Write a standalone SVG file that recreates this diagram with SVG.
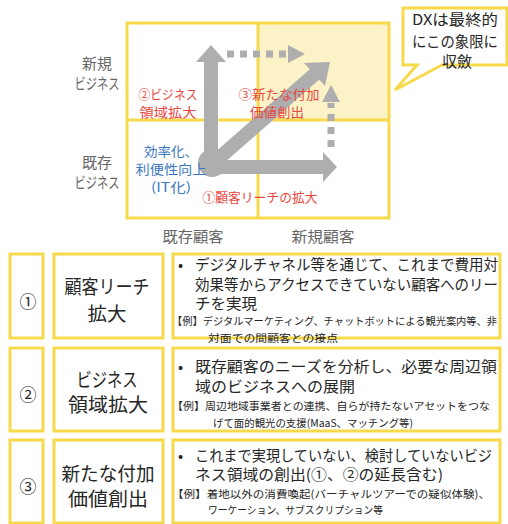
<svg xmlns="http://www.w3.org/2000/svg" width="508" height="524" viewBox="0 0 508 524">
<style>
.y{fill:none;stroke:#F7D94C;stroke-width:3}
.yw{fill:#fff;stroke:#F7D94C;stroke-width:3}
.t{font-family:"Noto Sans CJK JP","Noto Sans",sans-serif;dominant-baseline:central}
.c{text-anchor:middle}
.ax{fill:#666;font-size:15px}
.red{fill:#E8473F;font-size:13px}
.blue{fill:#3B78BD;font-size:13px}
.k{fill:#262626}
.b{font-size:15px}
.s{font-size:10.5px}
.h{font-size:19px}
.g{fill:#AEAEAE}
.gs{fill:none;stroke:#AEAEAE}
</style>
<rect width="508" height="524" fill="#fff"/>
<g id="matrix">
<rect x="258" y="23" width="131" height="97" fill="#FBF3C7"/>
<rect class="y" x="127" y="23" width="262" height="195"/>
<line class="y" x1="258" y1="23" x2="258" y2="218"/>
<line class="y" x1="127" y1="120" x2="389" y2="120"/>
</g>
<g id="axis-labels">
<text class="t c ax" x="97" y="62">新規</text>
<text class="t c ax" x="97" y="82" textLength="45" lengthAdjust="spacingAndGlyphs">ビジネス</text>
<text class="t c ax" x="97" y="161">既存</text>
<text class="t c ax" x="97" y="181" textLength="45" lengthAdjust="spacingAndGlyphs">ビジネス</text>
<text class="t c ax" x="193" y="235" textLength="61" lengthAdjust="spacingAndGlyphs">既存顧客</text>
<text class="t c ax" x="323" y="235" textLength="63" lengthAdjust="spacingAndGlyphs">新規顧客</text>
</g>
<g id="connectors">
<path class="gs" d="M211 62 V167 H323" stroke-width="14" stroke-linejoin="round"/>
<circle class="g" cx="212" cy="163" r="14"/>
<polygon class="g" points="211,45 226,62 196,62"/>
<polygon class="g" points="337,167 323,152 323,182"/>
<line class="gs" x1="211" y1="165" x2="315" y2="74" stroke-width="14"/>
<polygon class="g" points="330,62 325,86 304,63"/>
<line class="gs" x1="227" y1="54" x2="288" y2="54" stroke-width="7" stroke-dasharray="7 6"/>
<polygon class="g" points="305,54 288,45 288,63"/>
<line class="gs" x1="331" y1="147" x2="331" y2="103" stroke-width="7" stroke-dasharray="7 6"/>
<polygon class="g" points="331,85 322,102 340,102"/>
</g>
<g id="quadrant-labels">
<text class="t c red" x="168" y="93" textLength="59" lengthAdjust="spacingAndGlyphs">②ビジネス</text>
<text class="t c red" x="168" y="111" textLength="57" lengthAdjust="spacingAndGlyphs">領域拡大</text>
<text class="t c red" x="279" y="93" textLength="81" lengthAdjust="spacingAndGlyphs">③新たな付加</text>
<text class="t c red" x="277" y="111" textLength="54" lengthAdjust="spacingAndGlyphs">価値創出</text>
<text class="t c blue" x="171" y="150" textLength="54" lengthAdjust="spacingAndGlyphs">効率化、</text>
<text class="t c blue" x="171" y="168" textLength="71" lengthAdjust="spacingAndGlyphs">利便性向上</text>
<text class="t c blue" x="171" y="186" textLength="40" lengthAdjust="spacingAndGlyphs">(IT化)</text>
<text class="t c red" x="260" y="196" textLength="115" lengthAdjust="spacingAndGlyphs">①顧客リーチの拡大</text>
</g>
<g id="callout">
<path class="yw" d="M403 8 H507 V65 H442 L395 90 L417 65 H403 Z"/>
<text class="t c k b" x="455" y="18" textLength="86" lengthAdjust="spacingAndGlyphs">DXは最終的</text>
<text class="t c k b" x="455" y="40" textLength="86" lengthAdjust="spacingAndGlyphs">にこの象限に</text>
<text class="t c k b" x="457" y="60">収斂</text>
</g>
<g id="row1">
<rect class="y" x="10" y="254" width="33" height="84"/>
<rect class="y" x="54" y="254" width="109" height="84"/>
<rect class="y" x="173" y="254" width="327" height="84"/>
<text class="t c k" x="28" y="300" font-size="17">①</text>
<text class="t c k h" x="107" y="285" textLength="85" lengthAdjust="spacingAndGlyphs">顧客リーチ</text>
<text class="t c k h" x="107" y="312" textLength="39" lengthAdjust="spacingAndGlyphs">拡大</text>
<text class="t k b" x="178" y="263">•</text>
<text class="t k b" x="195" y="263" textLength="303" lengthAdjust="spacingAndGlyphs">デジタルチャネル等を通じて、これまで費用対</text>
<text class="t k b" x="195" y="283" textLength="303" lengthAdjust="spacingAndGlyphs">効果等からアクセスできていない顧客へのリー</text>
<text class="t k b" x="195" y="302" textLength="62" lengthAdjust="spacingAndGlyphs">チを実現</text>
<text class="t k s" x="172" y="320" textLength="325" lengthAdjust="spacingAndGlyphs">【例】デジタルマーケティング、チャットボットによる観光案内等、非</text>
<text class="t k s" x="208" y="337" textLength="130" lengthAdjust="spacingAndGlyphs">対面での間顧客との接点</text>
</g>
<g id="row2">
<rect class="y" x="10" y="348" width="33" height="83"/>
<rect class="y" x="54" y="348" width="109" height="83"/>
<rect class="y" x="173" y="348" width="327" height="83"/>
<text class="t c k" x="28" y="393" font-size="17">②</text>
<text class="t c k h" x="107" y="378" textLength="61" lengthAdjust="spacingAndGlyphs">ビジネス</text>
<text class="t c k h" x="108" y="403" textLength="80" lengthAdjust="spacingAndGlyphs">領域拡大</text>
<text class="t k b" x="178" y="365">•</text>
<text class="t k b" x="195" y="365" textLength="302" lengthAdjust="spacingAndGlyphs">既存顧客のニーズを分析し、必要な周辺領</text>
<text class="t k b" x="195" y="385" textLength="160" lengthAdjust="spacingAndGlyphs">域のビジネスへの展開</text>
<text class="t k s" x="172" y="405" textLength="318" lengthAdjust="spacingAndGlyphs">【例】周辺地域事業者との連携、自らが持たないアセットをつな</text>
<text class="t k s" x="213" y="422" textLength="200" lengthAdjust="spacingAndGlyphs">げて面的観光の支援(MaaS、マッチング等)</text>
</g>
<g id="row3">
<rect class="y" x="10" y="440" width="33" height="83"/>
<rect class="y" x="54" y="440" width="109" height="83"/>
<rect class="y" x="173" y="440" width="327" height="83"/>
<text class="t c k" x="28" y="485" font-size="17">③</text>
<text class="t c k h" x="108" y="472" textLength="93" lengthAdjust="spacingAndGlyphs">新たな付加</text>
<text class="t c k h" x="108" y="497" textLength="80" lengthAdjust="spacingAndGlyphs">価値創出</text>
<text class="t k b" x="178" y="454">•</text>
<text class="t k b" x="195" y="454" textLength="297" lengthAdjust="spacingAndGlyphs">これまで実現していない、検討していないビジ</text>
<text class="t k b" x="195" y="473" textLength="248" lengthAdjust="spacingAndGlyphs">ネス領域の創出(①、②の延長含む)</text>
<text class="t k s" x="172" y="493" textLength="318" lengthAdjust="spacingAndGlyphs">【例】着地以外の消費喚起(バーチャルツアーでの疑似体験)、</text>
<text class="t k s" x="208" y="509" textLength="175" lengthAdjust="spacingAndGlyphs">ワーケーション、サブスクリプション等</text>
</g>
</svg>
